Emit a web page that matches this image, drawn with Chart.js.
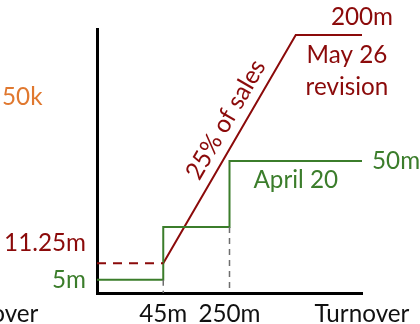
<!DOCTYPE html>
<html>
<head>
<meta charset="utf-8">
<script src="https://cdn.jsdelivr.net/npm/chart.js@4.4.1/dist/chart.umd.min.js"></script>
<style>
  html,body{margin:0;padding:0;background:#fff;}
  #wrap{width:420px;height:324px;}
</style>
</head>
<body>
<div id="wrap"><canvas id="taxChart" width="420" height="324"></canvas></div>
<script>
// turnover (m) vs tax (m), schematic axes
const turnoverApril = [0, 45, 250, 1000];
const taxApril = [5, 25, 50, 50];
const turnoverMay = [45, 800, 1000];
const taxMay = [11.25, 200, 200];
const turnoverFloor = [0, 45];
const taxFloor = [11.25, 11.25];
const guideTurnover = [45, 250];
const guideTax = [5, 25];
const turnoverTicks = [45, 250];

const RED = "#8b0a0a", GREEN = "#3b7d2b", GREY = "#6e6e6e", ORANGE = "#e0782f";
const FONT = "25px Lato";
const SQUEEZE = 0.97;

// linear between knots, so the axis can be compressed where it is not to scale
class PiecewiseScale extends Chart.LinearScale {
  static id = "piecewise";
  static defaults = Chart.LinearScale.defaults;
  frac(v){
    const k = this.options.knots, f = this.options.fracs;
    if(v <= k[0]) return f[0];
    for(let i=1;i<k.length;i++){
      if(v <= k[i]) return f[i-1] + (v-k[i-1])/(k[i]-k[i-1])*(f[i]-f[i-1]);
    }
    return f[f.length-1];
  }
  getPixelForValue(v){
    if(v === null || v === undefined) return NaN;
    return this.getPixelForDecimal(this.frac(v));
  }
}
Chart.register(PiecewiseScale);

const pts = (xs, ys) => xs.map((x,i)=>({x, y:ys[i]}));

function text(ctx, str, x, y, color, align){
  ctx.save();
  ctx.fillStyle = color;
  ctx.font = FONT;
  ctx.textAlign = align || "center";
  ctx.textBaseline = "middle";
  ctx.translate(x, y);
  ctx.scale(SQUEEZE, 1);
  ctx.fillText(str, 0, 0);
  ctx.restore();
}

const labels = {
  id: "labels",
  afterDatasetsDraw(chart){
    const {ctx, scales:{x, y}, chartArea:a} = chart;
    const endX = x.getPixelForValue(turnoverMay[2]);
    const topY = y.getPixelForValue(taxMay[2]);
    const axisY = a.bottom + 21;

    // May 26 revision
    text(ctx, taxMay[2] + "m", endX, topY - 18, RED);
    text(ctx, "May 26", endX - 15, topY + 20, RED);
    text(ctx, "revision", endX - 15, topY + 52, RED);
    text(ctx, taxFloor[0] + "m", a.left - 11, y.getPixelForValue(taxFloor[0]) - 20, RED, "right");

    // 25% of sales along the ramp
    const x1 = x.getPixelForValue(turnoverMay[0]), y1 = y.getPixelForValue(taxMay[0]);
    const x2 = x.getPixelForValue(turnoverMay[1]), y2 = y.getPixelForValue(taxMay[1]);
    const ang = Math.atan2(y2-y1, x2-x1);
    ctx.save();
    ctx.translate(x1 + (x2-x1)*0.59, y1 + (y2-y1)*0.59);
    ctx.rotate(ang);
    text(ctx, "25% of sales", 0, -18, RED);
    ctx.restore();

    // April 20
    text(ctx, taxApril[3] + "m", endX + 10, y.getPixelForValue(taxApril[3]), GREEN, "left");
    text(ctx, "April 20", x.getPixelForValue(800), y.getPixelForValue(taxApril[2]) + 19, GREEN);
    text(ctx, taxApril[0] + "m", a.left - 11, y.getPixelForValue(taxApril[0]), GREEN, "right");

    // turnover axis
    turnoverTicks.forEach(t => text(ctx, t + "m", x.getPixelForValue(t), axisY, "#111"));
    text(ctx, "Turnover", endX, axisY, "#111");

    // spill-over from the neighbouring panel
    text(ctx, "Turnover", -9, axisY, "#111");
    text(ctx, "50k", 2, 97, ORANGE, "left");
  }
};

const line = (data, color, extra) => Object.assign({
  data, borderColor: color, borderWidth: 2, pointRadius: 0, fill: false, tension: 0
}, extra || {});

new Chart(document.getElementById("taxChart"), {
  type: "line",
  data: {
    datasets: [
      ...guideTurnover.map((t,i)=>line(pts([t,t],[guideTax[i],0]), GREY, {borderWidth:1.5, borderDash:[6,5]})),
      line(pts(turnoverFloor, taxFloor), RED, {borderDash:[9,7]}),
      line(pts(turnoverApril, taxApril), GREEN, {stepped:"before"}),
      line(pts(turnoverMay, taxMay), RED)
    ]
  },
  options: {
    responsive: false,
    animation: false,
    events: [],
    layout: {padding:{left:97, right:58, top:29, bottom:31}},
    plugins: {legend:{display:false}, tooltip:{enabled:false}},
    scales: {
      x: {
        type: "piecewise", min: 0, max: 1000,
        knots: [0, 45, 250, 800, 1000], fracs: [0, 0.25, 0.5, 0.75, 1],
        ticks: {display:false},
        grid: {drawOnChartArea:false, drawTicks:false, color:"transparent"},
        border: {display:true, color:"#000", width:3},
        afterFit: s => { s.height = 0; }
      },
      y: {
        type: "piecewise", min: 0, max: 200,
        knots: [0, 50, 200], fracs: [0, 0.5, 0.977],
        ticks: {display:false},
        grid: {drawOnChartArea:false, drawTicks:false, color:"transparent"},
        border: {display:true, color:"#000", width:3},
        afterFit: s => { s.width = 0; }
      }
    }
  },
  plugins: [labels]
});
</script>
</body>
</html>
